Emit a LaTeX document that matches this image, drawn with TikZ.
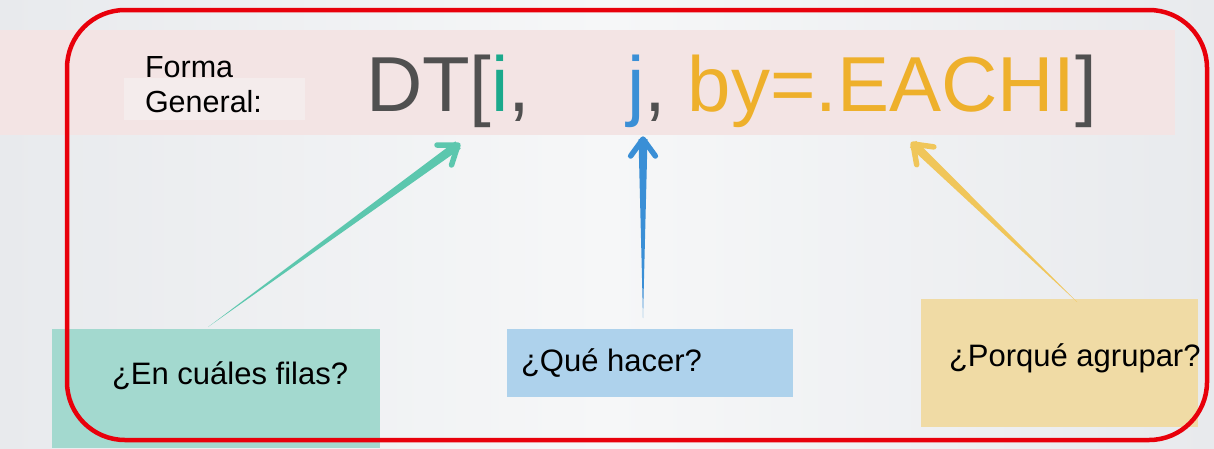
\documentclass[tikz,border=0pt]{standalone}
\usepackage{fontspec}
\setmainfont{Liberation Sans}
\usetikzlibrary{calc}
\definecolor{bgedge}{HTML}{E8EAED}
\definecolor{bgmid}{HTML}{F6F7F8}
\definecolor{pinkband}{HTML}{F3E4E4}
\definecolor{formabg}{HTML}{F4ECEC}
\definecolor{dtgray}{HTML}{505050}
\definecolor{iteal}{HTML}{1BA98C}
\definecolor{jblue}{HTML}{3A8FD6}
\definecolor{byorange}{HTML}{EEB02B}
\definecolor{tealfill}{HTML}{A3D9CF}
\definecolor{bluefill}{HTML}{AED2EC}
\definecolor{yellowfill}{HTML}{F0DBA5}
\definecolor{tealarrow}{HTML}{5CC7AE}
\definecolor{bluearrow}{HTML}{3A8FD6}
\definecolor{yellowarrow}{HTML}{F0C65A}
\definecolor{framered}{HTML}{E8000B}
\newcommand\taperarrow[4]{%
  \fill[#4] (#1) -- ($(#2)!#3!90:(#1)$) -- ($(#2)!#3!-90:(#1)$) -- cycle;
  \draw[#4, line width=5.5pt, line cap=round, line join=round]
    ($(#2)!21pt!36:(#1)$) -- (#2) -- ($(#2)!21pt!-36:(#1)$);}
\begin{document}
\begin{tikzpicture}[x=1pt,y=-1pt,
  every node/.style={inner sep=0pt, outer sep=0pt},
  bigtext/.style={font=\fontsize{78}{90}\selectfont, anchor=base west},
  labeltext/.style={font=\fontsize{31}{36}\selectfont, anchor=base west, text=black},
  formatext/.style={font=\fontsize{30.5}{36}\selectfont, anchor=base west, text=black},
  box/.style={anchor=north west, draw=none}]
\useasboundingbox (0,0) rectangle (1214,448);
\shade[left color=bgedge, right color=bgedge, middle color=bgmid] (0,0) rectangle (1214,448);
\fill[pinkband] (0,30) rectangle (1175,135);
\fill[formabg] (124,78) rectangle (305,120);

\node[formatext] (forma1) at (145,77) {Forma};
\node[formatext] (forma2) at (145,112) {General:};
\node[bigtext] (dti) at (366,111) {\color{dtgray}DT[\color{iteal}i\color{dtgray},};
\node[bigtext] (jby) at (627,111) {\color{jblue}j\color{dtgray}, \color{byorange}by=.EACHI\color{dtgray}]};

\node[box, fill=tealfill, minimum width=328pt, minimum height=119pt] (filasbox) at (52,329) {};
\node[box, fill=bluefill, minimum width=286pt, minimum height=68pt] (hacerbox) at (507,329) {};
\node[box, fill=yellowfill, minimum width=277pt, minimum height=128pt] (agruparbox) at (921,299) {};

\node[labeltext] (filas) at (112,384) {¿En cuáles filas?};
\node[labeltext] (hacer) at (521,371) {¿Qué hacer?};
\node[labeltext] (agrupar) at (949,366) {¿Porqué agrupar?};

\coordinate (itail) at (208,327);
\coordinate (ihead) at (458,145);
\coordinate (jtail) at (643,318);
\coordinate (jhead) at (643,139);
\coordinate (btail) at (1077,302);
\coordinate (bhead) at (913,144);
\taperarrow{itail}{ihead}{4.5pt}{tealarrow}
\taperarrow{jtail}{jhead}{4.5pt}{bluearrow}
\taperarrow{btail}{bhead}{4.5pt}{yellowarrow}

\draw[framered, line width=4.5pt, rounded corners=58pt] (67,10) rectangle (1207,440);
\end{tikzpicture}
\end{document}
